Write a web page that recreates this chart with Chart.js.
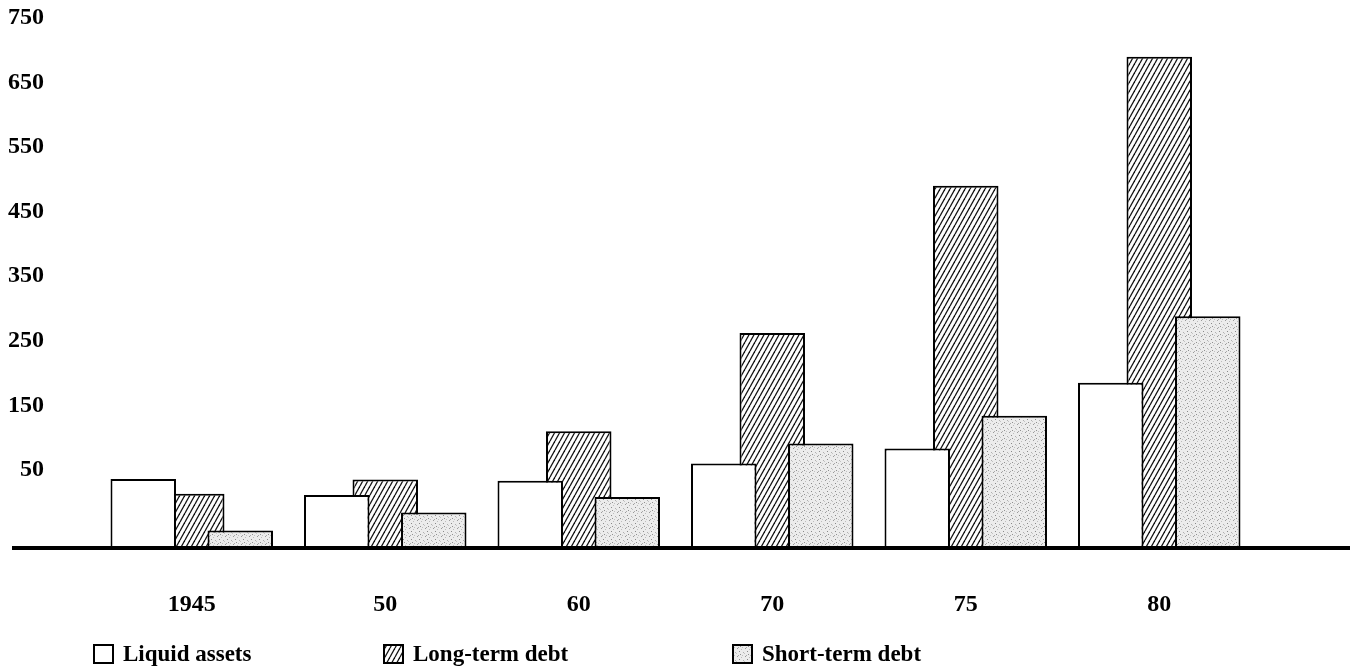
<!DOCTYPE html>
<html lang="en">
<head>
<meta charset="UTF-8">
<title>Liquid assets and debt, 1945-80</title>
<script src="https://cdn.jsdelivr.net/npm/chart.js"></script>
<style>
    html, body { margin: 0; padding: 0; background: #fff; }
</style>
</head>
<body>
<canvas id="debtChart" width="1355" height="670"></canvas>
<script>
    // values (scale given by the axis labels)
    const years = ['1945', '50', '60', '70', '75', '80'];
    const liquidAssets = [36, 11, 33, 60, 83, 185];
    const longTermDebt = [13, 35, 110, 262, 490, 690];
    const shortTermDebt = [-44, -16, 8, 91, 134, 288];
    const yTicks = [50, 150, 250, 350, 450, 550, 650, 750];
    const yMin = -71;
    const yMax = 750;

    const FONT = '"Liberation Serif", "Times New Roman", serif';
    const canvas = document.getElementById('debtChart');
    const ctx = canvas.getContext('2d');

    // diagonal hatching for long-term debt
    function makeHatch() {
        const c = document.createElement('canvas');
        c.width = 5; c.height = 9;
        const g = c.getContext('2d');
        g.fillStyle = '#fff';
        g.fillRect(0, 0, 5, 9);
        g.strokeStyle = '#111';
        g.lineWidth = 1.3;
        [[-5, 9, 0, 0], [0, 9, 5, 0], [5, 9, 10, 0]].forEach(l => {
            g.beginPath();
            g.moveTo(l[0], l[1]);
            g.lineTo(l[2], l[3]);
            g.stroke();
        });
        return ctx.createPattern(c, 'repeat');
    }

    // light grey stipple for short-term debt
    function makeStipple() {
        const c = document.createElement('canvas');
        c.width = 8; c.height = 8;
        const g = c.getContext('2d');
        g.fillStyle = '#ececec';
        g.fillRect(0, 0, 8, 8);
        const dots = [[1, 0, '#9a9a9a'], [5, 1, '#bdbdbd'], [3, 3, '#8a8a8a'], [7, 4, '#b0b0b0'],
                      [0, 5, '#c4c4c4'], [4, 6, '#909090'], [6, 7, '#c0c0c0'], [2, 7, '#aaaaaa']];
        dots.forEach(d => {
            g.fillStyle = d[2];
            g.fillRect(d[0], d[1], 1, 1);
        });
        return ctx.createPattern(c, 'repeat');
    }

    const hatch = makeHatch();
    const stipple = makeStipple();

    // long-term bars sit behind the other two
    const backLayer = {
        id: 'backLayer',
        beforeDatasetsDraw(chart) {
            chart.getDatasetMeta(1).controller.draw();
        },
        beforeDatasetDraw(chart, args) {
            if (args.index === 1) return false;
        }
    };

    // thick base line across the page
    const baseLine = {
        id: 'baseLine',
        afterDatasetsDraw(chart) {
            const y = chart.scales.y.getPixelForValue(yMin);
            const c = chart.ctx;
            c.save();
            c.fillStyle = '#000';
            c.fillRect(12, y - 2, 1338, 4);
            c.restore();
        }
    };

    // legend along the bottom
    const legendX = [94, 384, 733];
    const bottomLegend = {
        id: 'bottomLegend',
        afterDraw(chart) {
            const c = chart.ctx;
            const y = 654;
            c.save();
            chart.data.datasets.forEach((ds, i) => {
                const x = legendX[i];
                c.fillStyle = ds.backgroundColor;
                c.fillRect(x, y - 9, 19, 18);
                c.strokeStyle = '#000';
                c.lineWidth = 2;
                c.strokeRect(x, y - 9, 19, 18);
                c.fillStyle = '#000';
                c.font = 'bold 23px ' + FONT;
                c.textBaseline = 'middle';
                c.fillText(ds.label, x + 29, y + 1);
            });
            c.restore();
        }
    };

    new Chart(ctx, {
        type: 'bar',
        data: {
            labels: years,
            datasets: [
                {
                    label: 'Liquid assets',
                    data: liquidAssets,
                    backgroundColor: '#fff'
                },
                {
                    label: 'Long-term debt',
                    data: longTermDebt,
                    backgroundColor: hatch
                },
                {
                    label: 'Short-term debt',
                    data: shortTermDebt,
                    backgroundColor: stipple
                }
            ]
        },
        options: {
            responsive: false,
            animation: false,
            devicePixelRatio: 1,
            layout: {
                padding: { top: 18, right: 99, bottom: 50, left: 0 }
            },
            datasets: {
                bar: {
                    base: yMin,
                    borderColor: '#000',
                    borderWidth: 2,
                    borderSkipped: 'start',
                    categoryPercentage: 0.752,
                    barPercentage: 1.35
                }
            },
            plugins: {
                legend: { display: false },
                tooltip: { enabled: false }
            },
            scales: {
                x: {
                    grid: { display: false, drawTicks: false },
                    border: { display: false },
                    afterFit(scale) {
                        scale.height = 72;
                        scale.paddingLeft = 0;
                        scale.paddingRight = 0;
                    },
                    ticks: {
                        color: '#000',
                        padding: 42,
                        maxRotation: 0,
                        autoSkip: false,
                        font: { family: FONT, size: 24, weight: 'bold' }
                    }
                },
                y: {
                    min: yMin,
                    max: yMax,
                    grid: { display: false, drawTicks: false },
                    border: { display: false },
                    afterBuildTicks(scale) {
                        scale.ticks = yTicks.map(v => ({ value: v }));
                    },
                    afterFit(scale) {
                        scale.width = 95;
                        scale.paddingTop = 0;
                        scale.paddingBottom = 0;
                    },
                    ticks: {
                        color: '#000',
                        padding: 51,
                        font: { family: FONT, size: 24, weight: 'bold' }
                    }
                }
            }
        },
        plugins: [backLayer, baseLine, bottomLegend]
    });
</script>
</body>
</html>
